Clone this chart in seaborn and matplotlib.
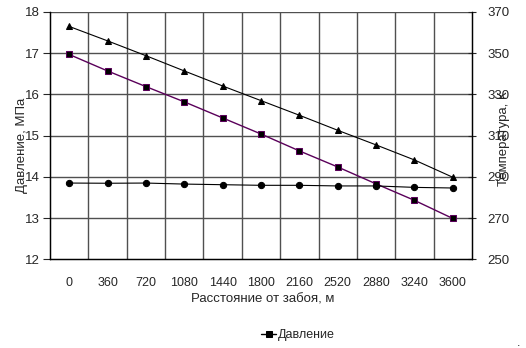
import numpy as np
import pandas as pd
import matplotlib
matplotlib.use("Agg")
import matplotlib.pyplot as plt
import seaborn as sns

distance = [0, 360, 720, 1080, 1440, 1800, 2160, 2520, 2880, 3240, 3600]
pressure = [16.97, 16.57, 16.19, 15.82, 15.43, 15.04, 14.63, 14.24, 13.83, 13.43, 12.99]
temp_fluid = [363.0, 356.0, 348.8, 341.4, 334.1, 327.0, 319.9, 312.6, 305.5, 298.2, 289.8]
temp_other = [287.0, 286.9, 287.0, 286.5, 286.2, 285.9, 285.9, 285.6, 285.6, 284.9, 284.6]

sns.set_style("white")
plt.rcParams['font.family'] = ['Liberation Sans', 'DejaVu Sans']

df = pd.DataFrame({
    "pos": np.arange(len(distance)),
    "dist": distance,
    "pressure": pressure,
    "t1": temp_fluid,
    "t2": temp_other,
})

fig = plt.figure(figsize=(5.26, 3.48), dpi=100)
ax = fig.add_axes([50/526, 1-259.3/348, (472-50)/526, (259.3-12)/348])
ax2 = ax.twinx()

grid_c = "#505050"
ax.set_xlim(-0.5, len(distance) - 0.5)
ax.set_ylim(12, 18)
ax.set_yticks(np.arange(12, 18.1, 1))
ax.set_xticks(df["pos"])
ax.set_xticklabels([str(d) for d in distance])
ax.set_xticks(np.arange(-0.5, len(distance), 1), minor=True)
ax.tick_params(axis="x", which="major", length=0, pad=13, labelsize=9)
ax.tick_params(axis="x", which="minor", length=6, direction="inout", width=0.8)
ax.tick_params(axis="y", which="major", length=5, direction="out", width=0.8, labelsize=9.5, pad=2)
ax.grid(False)
for x in np.arange(0.5, len(distance) - 1, 1):
    ax.axvline(x, color=grid_c, lw=1, zorder=0)
for y in np.arange(13, 18.1, 1):
    ax.axhline(y, color=grid_c, lw=1, zorder=0)

ax2.set_ylim(250, 370)
ax2.set_yticks(np.arange(250, 371, 20))
ax2.tick_params(axis="y", which="major", length=6, direction="inout", width=0.8, labelsize=9.5, pad=8)

for a in (ax, ax2):
    for s in a.spines.values():
        s.set_color("black")
        s.set_linewidth(0.9)
    a.spines["top"].set_visible(False)

sns.lineplot(data=df, x="pos", y="pressure", ax=ax, color="#5a005a", lw=1,
             marker="s", markersize=5, markerfacecolor="black", markeredgecolor="#5a005a",
             label="Давление", zorder=5)
sns.lineplot(data=df, x="pos", y="t1", ax=ax2, color="black", lw=0.8,
             marker="^", markersize=5, markerfacecolor="black", markeredgecolor="black",
             legend=False)
sns.lineplot(data=df, x="pos", y="t2", ax=ax2, color="black", lw=0.8,
             marker="o", markersize=4.5, markerfacecolor="black", markeredgecolor="black",
             legend=False)

ax.set_xlabel("")
ax.set_ylabel("")
ax2.set_ylabel("")
ax.set_xlim(-0.5, len(distance) - 0.5)

handles, labels = ax.get_legend_handles_labels()
ax.legend_.remove()
leg = fig.legend(handles, labels, loc="center", bbox_to_anchor=(298/526, 1-335/348),
                 frameon=False, fontsize=9, handlelength=1.2, handletextpad=0.1)
for h in leg.legend_handles:
    h.set_color("black")
    h.set_markeredgecolor("black")

fig.text(263/526, 1-300/348, "Расстояние от забоя, м", ha="center", va="center", fontsize=9.5)
fig.text(22/526, 1-145/348, "Давление, МПа", ha="center", va="center", rotation=90, fontsize=9.5)
fig.text(504/526, 1-139/348, "Температура, К", ha="center", va="center", rotation=90, fontsize=9.5)
fig.text(519/526, 1-343/348, ".", ha="center", va="center", fontsize=9)

fig.savefig("out.png", dpi=100)
